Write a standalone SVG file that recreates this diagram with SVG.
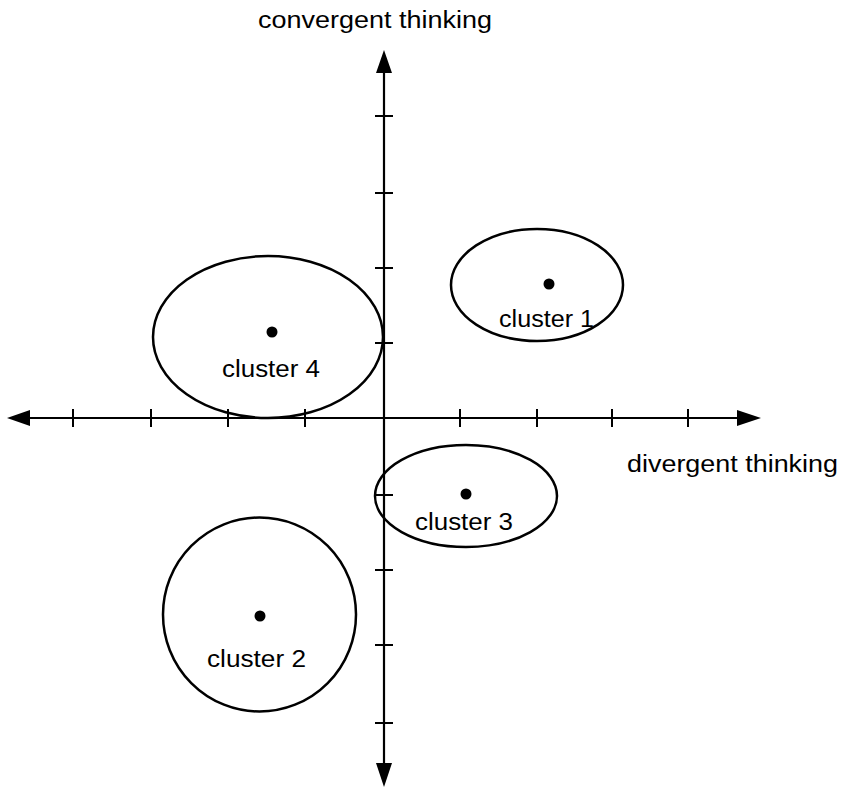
<svg xmlns="http://www.w3.org/2000/svg" width="848" height="788" viewBox="0 0 848 788">
<style>
.axis{stroke:#000;stroke-width:2.2;fill:none}
.tick{stroke:#000;stroke-width:2}
.cl{stroke:#000;stroke-width:2.5;fill:none}
.dot{fill:#000}
text{font-family:"Liberation Sans",Arial,sans-serif;font-size:23px;fill:#000}
</style>
<rect width="848" height="788" fill="#fff"/>
<g id="connectors">
<line class="axis" x1="384" y1="70" x2="384" y2="766"/>
<line class="axis" x1="28" y1="418" x2="740" y2="418"/>
<polygon points="384,50 376,73 392,73" fill="#000"/>
<polygon points="384,787 376,763 392,763" fill="#000"/>
<polygon points="7,418 30,410 30,426" fill="#000"/>
<polygon points="761,418 737,410 737,426" fill="#000"/>
<g class="tick">
<line x1="375" y1="116" x2="393" y2="116"/>
<line x1="375" y1="193" x2="393" y2="193"/>
<line x1="375" y1="268" x2="393" y2="268"/>
<line x1="375" y1="343" x2="393" y2="343"/>
<line x1="375" y1="495" x2="393" y2="495"/>
<line x1="375" y1="570" x2="393" y2="570"/>
<line x1="375" y1="645" x2="393" y2="645"/>
<line x1="375" y1="723" x2="393" y2="723"/>
<line x1="73" y1="409" x2="73" y2="427"/>
<line x1="151" y1="409" x2="151" y2="427"/>
<line x1="228" y1="409" x2="228" y2="427"/>
<line x1="305" y1="409" x2="305" y2="427"/>
<line x1="460" y1="409" x2="460" y2="427"/>
<line x1="537" y1="409" x2="537" y2="427"/>
<line x1="612" y1="409" x2="612" y2="427"/>
<line x1="688" y1="409" x2="688" y2="427"/>
</g>
</g>
<g id="label-convergent"><text x="258" y="28" textLength="234" lengthAdjust="spacingAndGlyphs">convergent thinking</text></g>
<g id="label-divergent"><text x="627" y="472" textLength="211" lengthAdjust="spacingAndGlyphs">divergent thinking</text></g>
<g id="cluster1">
<ellipse class="cl" cx="537" cy="285" rx="86" ry="56"/>
<circle class="dot" cx="549" cy="284" r="5.5"/>
<text x="499" y="327" textLength="95" lengthAdjust="spacingAndGlyphs">cluster 1</text>
</g>
<g id="cluster2">
<ellipse class="cl" cx="259.5" cy="614.5" rx="96.5" ry="97"/>
<circle class="dot" cx="260" cy="616" r="5.5"/>
<text x="207" y="667" textLength="99" lengthAdjust="spacingAndGlyphs">cluster 2</text>
</g>
<g id="cluster3">
<ellipse class="cl" cx="466" cy="496" rx="91" ry="51"/>
<circle class="dot" cx="466" cy="494" r="5.5"/>
<text x="415" y="530" textLength="98" lengthAdjust="spacingAndGlyphs">cluster 3</text>
</g>
<g id="cluster4">
<ellipse class="cl" cx="268" cy="337" rx="115" ry="81"/>
<circle class="dot" cx="272" cy="332" r="5.5"/>
<text x="222" y="377" textLength="98" lengthAdjust="spacingAndGlyphs">cluster 4</text>
</g>
</svg>
